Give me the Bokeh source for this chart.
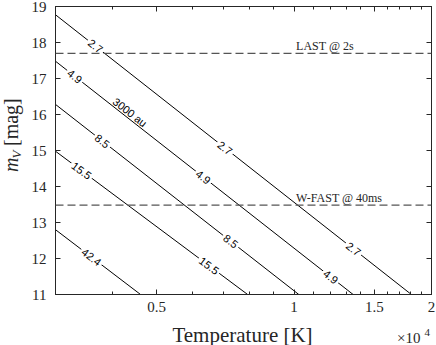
import math
from bokeh.plotting import figure
from bokeh.layouts import row, column
from bokeh.models import (Range1d, FixedTicker, LogAxis, LinearAxis, Label, Span,
                          CustomJSTickFormatter)
from bokeh.embed import file_html
from bokeh.resources import INLINE

# ---------------- data ----------------
T_min, T_max = 3000, 20000
m_min, m_max = 11, 19

diam_labels = ["2.7", "4.9", "8.5", "15.5", "42.4"]
line_T = [[3000, 18070], [3000, 13468], [3000, 10240], [3000, 7910], [3000, 4608]]
line_m = [[18.77, 11.0], [17.48, 11.0], [16.28, 11.0], [14.98, 11.0], [12.80, 11.0]]
label_T = [[3670, 7056, 13488], [3306, 6322, 12027], [3800, 7265], [3422, 6512], [3597]]
label_m = [[17.90, 15.07, 12.265], [17.06, 14.26, 11.49], [15.26, 12.48], [14.44, 11.80], [12.04]]

dist_text = "3000 au"
dist_T = 4369
dist_m = 16.06

limit_names = ["LAST @ 2s", "W-FAST @ 40ms"]
limit_m = [17.7, 13.48]
limit_label_T = [10100, 10100]

x_major = [5000, 10000, 15000, 20000]
x_minor = [3000, 4000, 6000, 7000, 8000, 9000, 11000, 12000, 13000, 14000,
           16000, 17000, 18000, 19000]
y_ticks = [11, 12, 13, 14, 15, 16, 17, 18, 19]

x_title = "Temperature [K]"
x_scale_text = "×10"
x_scale_exp = "4"
y_title_main = "m"
y_title_sub = "V"
y_title_unit = "[mag]"

# ---------------- layout ----------------
LEFT_W = 28
MAIN_W, MAIN_H = 408, 320
BOTTOM_H = 25
BL, BR, BT, BB = 25, 5, 6, 26
frame_w = MAIN_W - BL - BR
frame_h = MAIN_H - BT - BB

SERIF = "Liberation Serif"
SANS = "Liberation Sans"
AXC = "#262626"

p = figure(width=MAIN_W, height=MAIN_H, x_axis_type="log", title=None,
           x_range=Range1d(T_min, T_max), y_range=Range1d(m_min, m_max),
           output_backend="svg", toolbar_location=None,
           min_border_left=BL, min_border_right=BR,
           min_border_top=BT, min_border_bottom=BB)
p.grid.visible = False
p.outline_line_color = AXC
p.background_fill_color = "white"
p.border_fill_color = "white"


def style_axis(ax, ticker, labels=True):
    ax.ticker = ticker
    ax.axis_line_color = AXC
    ax.major_tick_line_color = AXC
    ax.minor_tick_line_color = AXC
    ax.major_tick_in = 5
    ax.major_tick_out = 0
    ax.minor_tick_in = 3
    ax.minor_tick_out = 0
    if labels:
        ax.major_label_text_font = SERIF
        ax.major_label_text_font_size = "15px"
        ax.major_label_text_color = AXC
    else:
        ax.major_label_text_font_size = "0px"
        ax.major_label_text_color = None
        ax.major_label_standoff = 0


xa = p.xaxis[0]
style_axis(xa, FixedTicker(ticks=x_major, minor_ticks=x_minor))
xa.formatter = CustomJSTickFormatter(code="return String(tick/10000);")
xa.major_label_standoff = 7

ya = p.yaxis[0]
style_axis(ya, FixedTicker(ticks=y_ticks))
ya.major_label_standoff = 9

top = LogAxis()
style_axis(top, FixedTicker(ticks=x_major, minor_ticks=x_minor), labels=False)
p.add_layout(top, "above")

right = LinearAxis()
style_axis(right, FixedTicker(ticks=y_ticks), labels=False)
p.add_layout(right, "right")

# ---------------- contour lines ----------------
dex_span = math.log10(T_max / T_min)
mag_span = m_max - m_min


def screen_angle(T0, T1, m0, m1):
    dx = (math.log10(T1) - math.log10(T0)) / dex_span * frame_w
    dy = (m1 - m0) / mag_span * frame_h
    return math.atan2(dy, dx)


for name, Ts, ms, lT, lm in zip(diam_labels, line_T, line_m, label_T, label_m):
    p.line(Ts, ms, line_color="black", line_width=1)
    ang = screen_angle(Ts[0], Ts[1], ms[0], ms[1])
    for tx, mx in zip(lT, lm):
        p.add_layout(Label(x=tx, y=mx, text=name, angle=ang,
                           text_align="center", text_baseline="middle",
                           text_font=SANS, text_font_size="11px",
                           text_color="black",
                           background_fill_color="white", padding=2))

ang49 = screen_angle(line_T[1][0], line_T[1][1], line_m[1][0], line_m[1][1])
p.add_layout(Label(x=dist_T, y=dist_m, text=dist_text, angle=ang49,
                   text_align="center", text_baseline="middle",
                   text_font=SANS, text_font_size="11px", text_color="black"))

# ---------------- limiting magnitudes ----------------
for name, mv, tx in zip(limit_names, limit_m, limit_label_T):
    p.add_layout(Span(location=mv, dimension="width", line_color="#555555",
                      line_width=1.2, line_dash="8 4", level="overlay"))
    p.add_layout(Label(x=tx, y=mv, text=name, text_align="left",
                       text_baseline="middle", y_offset=7,
                       text_font=SERIF, text_font_size="12px", text_color=AXC))


# ---------------- axis titles (strips) ----------------
def strip(w, h):
    f = figure(width=w, height=h, x_range=Range1d(0, w), y_range=Range1d(0, h),
               title=None, output_backend="svg", toolbar_location=None,
               x_axis_location=None, y_axis_location=None,
               min_border_left=0, min_border_right=0,
               min_border_top=0, min_border_bottom=0)
    f.grid.visible = False
    f.outline_line_color = None
    f.background_fill_color = "white"
    f.border_fill_color = "white"
    return f


left = strip(LEFT_W, MAIN_H)
half = math.pi / 2
left.add_layout(Label(x=10.5, y=136, text=y_title_main, angle=half,
                      text_align="left", text_baseline="middle",
                      text_font=SERIF, text_font_style="italic",
                      text_font_size="20px", text_color=AXC))
left.add_layout(Label(x=16, y=151, text=y_title_sub, angle=half,
                      text_align="left", text_baseline="middle",
                      text_font=SERIF, text_font_style="italic",
                      text_font_size="13px", text_color=AXC))
left.add_layout(Label(x=10.5, y=165, text=y_title_unit, angle=half,
                      text_align="left", text_baseline="middle",
                      text_font=SERIF, text_font_size="20px", text_color=AXC))

TOTAL_W = LEFT_W + MAIN_W
bottom = strip(TOTAL_W, BOTTOM_H)
frame_center = LEFT_W + BL + frame_w / 2
bottom.add_layout(Label(x=frame_center, y=11, text=x_title,
                        text_align="center", text_baseline="middle",
                        text_font=SERIF, text_font_size="21px", text_color=AXC))
bottom.add_layout(Label(x=420, y=8, text=x_scale_text,
                        text_align="right", text_baseline="middle",
                        text_font=SERIF, text_font_size="15px", text_color=AXC))
bottom.add_layout(Label(x=424, y=13, text=x_scale_exp,
                        text_align="left", text_baseline="middle",
                        text_font=SERIF, text_font_size="11px", text_color=AXC))

layout = column(row(left, p, spacing=0), bottom, spacing=0)

open("out.html", "w").write(file_html(layout, INLINE))
